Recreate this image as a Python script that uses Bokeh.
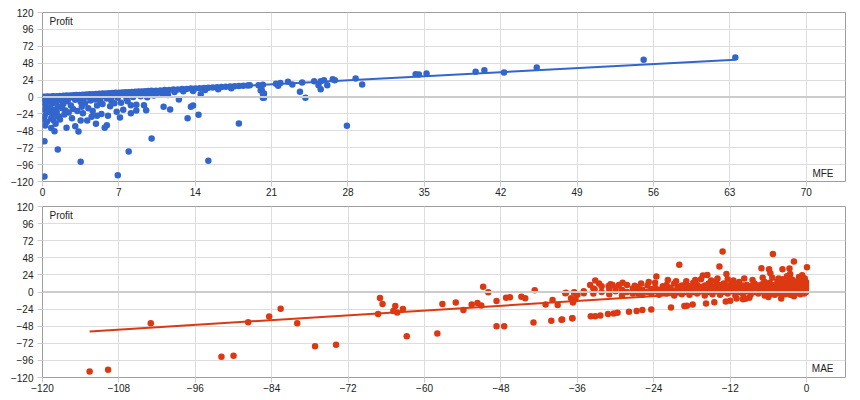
from bokeh.plotting import figure
from bokeh.models import Label, Span, FixedTicker, Range1d
from bokeh.layouts import column
from bokeh.embed import file_html
from bokeh.resources import INLINE

# ---- top chart: MFE vs Profit ----
mfe_band = [(0.1, 0.5), (0.3, 0.2), (0.5, 0.8), (0.8, 0.6), (1.0, 1.2), (1.3, 1.0), (1.6, 1.5), (1.9, 1.7),
            (2.2, 2.0), (2.5, 2.3), (2.8, 2.4), (3.1, 2.8), (3.4, 3.0), (3.7, 3.2), (4.0, 3.6), (4.3, 3.8),
            (4.6, 4.0), (4.9, 4.3), (5.2, 4.5), (5.5, 4.9), (5.8, 5.0), (6.1, 5.4), (6.4, 5.6), (6.7, 5.9),
            (7.0, 6.1), (7.3, 6.4), (7.6, 6.6), (7.9, 6.9), (8.2, 7.1), (8.5, 7.4), (8.8, 7.7), (9.1, 7.9),
            (9.4, 8.2), (9.7, 8.4), (10.0, 8.7), (10.4, 9.0), (10.8, 9.4), (11.2, 9.8), (11.6, 10.1),
            (12.0, 10.5), (12.4, 10.8), (12.8, 11.2), (13.2, 11.5), (13.6, 11.9), (14.0, 12.2), (14.4, 12.6),
            (14.8, 12.9), (15.2, 13.3), (15.6, 13.6), (16.0, 14.0), (16.4, 14.3), (16.8, 14.7), (17.2, 15.0),
            (17.6, 15.4), (18.0, 15.7), (18.4, 16.1), (18.8, 16.4),
            (0.2, -3), (0.6, -2.5), (1.1, -3.5), (1.5, -2), (2.0, -2.8), (2.4, -1.5), (2.9, -1.8), (3.3, -0.5),
            (3.8, -1.2), (4.2, 0.2), (4.7, 0.5), (5.1, 0.8), (5.6, 1.5), (6.0, 1.2), (6.5, 2.2), (7.0, 2.5),
            (7.5, 3.0), (8.0, 3.5), (8.6, 3.8), (9.2, 4.5), (9.8, 5.0), (10.5, 5.8), (11.3, 6.5), (12.1, 7.2),
            (12.9, 8.0), (13.8, 8.5), (14.9, 9.8), (16.1, 11.0), (17.3, 12.5),
            (0.1, -8), (0.3, -12), (0.5, -6), (0.7, -15), (0.9, -9), (1.2, -7), (1.4, -13), (1.7, -5),
            (1.9, -10), (2.3, -6), (2.6, -12), (3.0, -4), (3.5, -7), (3.9, -9), (4.4, -5), (4.8, -3.5),
            (5.3, -6), (5.9, -2), (6.3, -5), (6.9, -1), (7.7, -2), (8.3, 0), (9.0, 1), (9.6, -0.5),
            (10.2, 2), (11.0, 3.5)]

mfe_scatter = [(0.2, -18), (0.4, -22), (0.2, -27), (0.6, -20), (0.9, -25), (1.1, -18), (1.3, -21),
               (1.5, -28), (1.8, -16), (2.1, -19), (0.1, -32), (0.4, -35), (0.8, -30), (1.0, -33),
               (1.2, -38), (1.4, -27), (1.6, -32), (2.0, -25), (2.4, -22), (2.8, -17), (3.2, -20),
               (3.6, -14), (4.2, -16), (4.6, -20), (5.0, -12), (5.5, -10), (6.2, -13), (6.6, -9),
               (7.2, -8), (7.8, -6), (2.7, -30), (3.7, -23), (4.5, -28), (5.4, -24),
               (0.18, -113), (0.18, -62.8), (1.4, -74.6), (3.5, -92), (6.9, -111), (7.9, -77.4),
               (10.0, -59), (15.2, -90.6), (18.0, -37.6), (3.3, -49), (0.25, -40.5), (1.1, -48.5),
               (0.8, -44), (3.0, -41.5), (2.2, -43.8), (4.1, -33.4), (4.9, -38), (3.5, -33.4),
               (5.7, -43.8), (5.9, -40), (6.0, -26.7), (5.0, -26.7), (13.3, -30), (14.3, -25.3),
               (13.6, -14), (13.8, -12), (12.5, -3.5), (11.1, -14), (11.7, -17.8), (9.5, -18.7),
               (9.3, -11.8), (8.6, -19), (8.6, -11), (8.1, -23), (8.1, -11.8), (7.4, -18), (7.1, -29),
               (6.8, -21), (14.5, 4), (11.5, 3), (20.2, -1), (20.2, 5), (20.1, 9.5)]

mfe_tail = [(19.0, 16.8), (19.8, 16.8), (20.2, 17.5), (20.0, 9.7), (20.3, 5), (20.3, -1.2),
            (21.4, 18.7), (21.8, 20), (21.6, 16), (22.5, 21.5), (22.9, 17.8), (23.6, 7.3), (23.8, 20.6),
            (24.1, -1.2), (24.9, 22.5), (25.3, 16.8), (25.5, 11), (25.5, 22.5), (25.8, 23.9),
            (26.1, 16.8), (26.6, 25.3), (26.8, 23.9), (27.9, -41), (28.7, 26.3), (29.3, 17.8),
            (34.2, 32.4), (34.5, 32), (35.2, 33.4), (39.7, 35.8), (40.5, 38), (42.3, 34.8),
            (45.3, 41.9), (55.1, 52.8), (63.5, 56)]

mfe_trend_x = [0.0, 63.5]
mfe_trend_y = [0.5, 53.0]

# ---- bottom chart: MAE vs Profit ----
mae_cloud = [(-0.1, 0), (-0.1, 5), (-0.1, 10), (-0.1, 14), (-0.4, -2), (-0.4, 3), (-0.4, 8), (-0.4, 12),
             (-0.7, 1), (-0.7, 6), (-0.7, 11), (-0.7, 16), (-1.0, -3), (-1.0, 2), (-1.0, 7), (-1.0, 13),
             (-1.4, 0), (-1.4, 4), (-1.4, 9), (-1.4, 15), (-1.8, -2), (-1.8, 3), (-1.8, 8), (-1.8, 12),
             (-2.2, 1), (-2.2, 6), (-2.2, 10), (-2.2, 17), (-2.6, -4), (-2.6, 2), (-2.6, 7), (-2.6, 13),
             (-3.0, 0), (-3.0, 5), (-3.0, 9), (-3.0, 14), (-3.4, -3), (-3.4, 3), (-3.4, 8), (-3.4, 11),
             (-3.8, 1), (-3.8, 6), (-3.8, 12), (-3.8, 18), (-4.2, -2), (-4.2, 4), (-4.2, 9),
             (-4.6, 0), (-4.6, 5), (-4.6, 11), (-4.6, 15), (-5.0, -4), (-5.0, 2), (-5.0, 7),
             (-5.4, 1), (-5.4, 6), (-5.4, 10), (-5.4, 20), (-5.8, -3), (-5.8, 3), (-5.8, 8), (-5.8, 13),
             (-6.2, 0), (-6.2, 5), (-6.2, 9), (-6.6, -5), (-6.6, 2), (-6.6, 7), (-6.6, 14),
             (-7.0, 1), (-7.0, 6), (-7.0, 11), (-7.6, -2), (-7.6, 4), (-7.6, 9), (-8.2, 0), (-8.2, 6),
             (-8.2, 12), (-8.8, -4), (-8.8, 3), (-8.8, 8), (-9.4, 1), (-9.4, 5), (-9.4, 10),
             (-10.0, -3), (-10.0, 4), (-10.0, 9), (-10.6, 0), (-10.6, 6), (-10.6, 14), (-11.2, -5),
             (-11.2, 2), (-11.2, 8), (-11.8, 1), (-11.8, 5), (-11.8, 11), (-12.4, -2), (-12.4, 3),
             (-12.4, 9), (-12.4, 18), (-13.0, 0), (-13.0, 6), (-13.0, 12), (-13.6, -4), (-13.6, 4),
             (-13.6, 10), (-14.2, 1), (-14.2, 7), (-14.2, 15), (-14.8, -3), (-14.8, 2), (-14.8, 8),
             (-15.4, 0), (-15.4, 5), (-15.4, 12), (-16.0, -5), (-16.0, 3), (-16.0, 9), (-16.6, 1),
             (-16.6, 7), (-16.6, 18), (-17.2, -2), (-17.2, 4), (-17.2, 10), (-17.8, 0), (-17.8, 6),
             (-17.8, 13), (-18.4, -4), (-18.4, 2), (-18.4, 8), (-19.0, 1), (-19.0, 5), (-19.0, 11),
             (-19.6, -3), (-19.6, 3), (-19.6, 9), (-20.2, 0), (-20.2, 7), (-20.8, -5), (-20.8, 2),
             (-20.8, 12), (-21.4, 1), (-21.4, 6), (-22.0, -2), (-22.0, 4), (-22.0, 10), (-22.6, 0),
             (-22.6, 8), (-23.2, -4), (-23.2, 3), (-23.8, 1), (-23.8, 6), (-23.8, 13), (-24.4, -2),
             (-24.4, 4), (-25.0, 0), (-25.0, 9), (-25.8, -4), (-25.8, 3), (-26.5, 1), (-26.5, 7),
             (-27.3, -2), (-27.3, 5), (-28.2, 0), (-28.2, 10), (-29.0, -5), (-29.0, 3), (-30.0, 1),
             (-30.0, 6), (-31.0, -3), (-31.0, 4), (-32.2, 0), (-32.2, 8), (-33.5, -2), (-33.5, 5),
             (-35.0, 1), (-36.0, -4), (-9.0, -8), (-6.0, -7), (-4.0, -9), (-2.0, -6), (-11.0, -9),
             (-0.3, 19), (-1.2, 21), (-2.4, 18), (-3.1, 22), (-4.4, 19), (-6.9, 20), (-8.5, 17),
             (-9.8, 19), (-11.5, 16), (-14.0, 19), (-15.0, 16), (-17.5, 17), (-18.9, 15), (-20.5, 15),
             (-21.8, 17), (-24.8, 14), (-26.0, 12), (-28.9, 13), (-30.8, 11), (-34.0, 10), (-32.6, 12)]

mae_diag = [(-38.4, -38.6), (-36.8, -37), (-33.9, -33.9), (-33.2, -33.9), (-32.4, -33), (-31.2, -31),
            (-30.3, -30), (-29.7, -29), (-27.9, -27.8), (-26.7, -26.8), (-25.8, -25.4), (-24.4, -24.4),
            (-21.3, -21.6), (-19.2, -19.8), (-18.8, -19.3), (-17.9, -17.4), (-15.8, -16), (-14.5, -14.5),
            (-12.7, -13.2), (-12.0, -12.2), (-10.0, -10.3), (-9.6, -9.4)]

mae_outliers = [(-112.6, -111.5), (-109.7, -109), (-103.0, -44), (-91.9, -91), (-90.0, -89.5),
                (-87.7, -42.4), (-84.4, -34.4), (-82.6, -23.5), (-80.0, -43.8), (-77.2, -76),
                (-73.9, -74), (-67.3, -31), (-67.0, -8.5), (-66.6, -17), (-64.9, -26.8), (-64.6, -19.8),
                (-64.3, -28.7), (-63.4, -24), (-62.8, -62), (-58.0, -58.4), (-57.2, -17), (-55.1, -14.6),
                (-53.9, -25.4), (-52.6, -17.4), (-51.7, -15.5), (-51.1, -18.8), (-50.8, 7.5),
                (-50.0, -0.5), (-48.7, -12.7), (-48.7, -48), (-47.5, -48), (-47.2, -8), (-46.6, -7.5),
                (-44.8, -6.6), (-44.2, -8.9), (-42.7, 2.4), (-42.9, -42.8), (-41.0, -17.4),
                (-40.1, -40.5), (-39.9, -11.3), (-39.1, -18.4), (-38.5, -39), (-37.9, -1.9), (-36.8, -37),
                (-37.0, -8.9), (-36.7, -14.6), (-36.5, -0.5), (-36.3, -10),
                (-13.2, 56.9), (-5.3, 53.2), (-20.0, 38.1), (-13.7, 35.7), (-7.1, 33.4), (-5.9, 32),
                (-3.8, 32), (-2.7, 32.9), (-2.0, 42.8), (0.05, 34.9), (-5.7, 26.4), (-2.6, 25.4),
                (-0.7, 23.6), (-12.6, 25.4), (-16.3, 23), (-15.6, 24), (-23.6, 21.6), (-33.2, 16),
                (-30.5, 9.9), (-29.5, 9.9), (-31.1, 8.5), (-27.0, 8.9), (-37.8, -1), (-36.5, -1),
                (-35.0, -1.9), (-33.3, 3.7), (-26.5, -1.9)]

mae_trend_x = [-112.6, 0.3]
mae_trend_y = [-55.5, 7.8]

y_ticks = [-120, -96, -72, -48, -24, 0, 24, 48, 72, 96, 120]
mfe_ticks = [0, 7, 14, 21, 28, 35, 42, 49, 56, 63, 70]
mae_ticks = [-120, -108, -96, -84, -72, -60, -48, -36, -24, -12, 0]

BLUE = "#3366cc"
RED = "#dc3912"
FONT = "Liberation Sans"


def make_chart(points, trend_x, trend_y, color, xticks, x_range, x_name, top_border, frame_h):
    p = figure(width=850, height=top_border + frame_h + 18, output_backend="svg", toolbar_location=None,
               x_range=Range1d(*x_range), y_range=Range1d(-120, 120),
               min_border_left=42, min_border_right=5, min_border_top=top_border, min_border_bottom=0)
    xs = [pt[0] for pt in points]
    ys = [pt[1] for pt in points]
    p.add_layout(Span(location=0, dimension="width", line_color="#cccccc", line_width=2), "center")
    p.scatter(xs, ys, size=6.5, fill_color=color, line_color=None)
    p.line(trend_x, trend_y, line_color=color, line_width=2)

    p.xaxis.ticker = FixedTicker(ticks=xticks)
    p.yaxis.ticker = FixedTicker(ticks=y_ticks)
    for ax in (p.xaxis, p.yaxis):
        ax.axis_line_color = None
        ax.minor_tick_line_color = None
        ax.major_tick_in = 0
        ax.major_tick_out = 5
        ax.major_tick_line_color = "#cccccc"
        ax.major_label_text_font = FONT
        ax.major_label_text_font_size = "10px"
        ax.major_label_text_color = "#222222"
    p.xaxis.major_label_standoff = 1
    p.yaxis.major_label_standoff = 4
    p.grid.grid_line_color = "#dddddd"
    p.outline_line_color = "#9e9e9e"
    p.outline_line_width = 1

    p.add_layout(Label(x=x_range[0], y=107, x_offset=7, text="Profit", text_font=FONT,
                       text_font_size="10px", text_color="#222222", text_baseline="middle"))
    p.add_layout(Label(x=x_range[1], y=-108, x_offset=-12, text=x_name, text_font=FONT,
                       text_font_size="10px", text_color="#222222", text_baseline="middle",
                       text_align="right"))
    return p


p1 = make_chart(mfe_band + mfe_scatter + mfe_tail, mfe_trend_x, mfe_trend_y, BLUE,
                mfe_ticks, (0, 73.6), "MFE", 12, 168)
p2 = make_chart(mae_cloud + mae_diag + mae_outliers, mae_trend_x, mae_trend_y, RED,
                mae_ticks, (-120, 6.1), "MAE", 8, 170)

layout = column(p1, p2, spacing=0)
open("out.html", "w").write(file_html(layout, INLINE))
